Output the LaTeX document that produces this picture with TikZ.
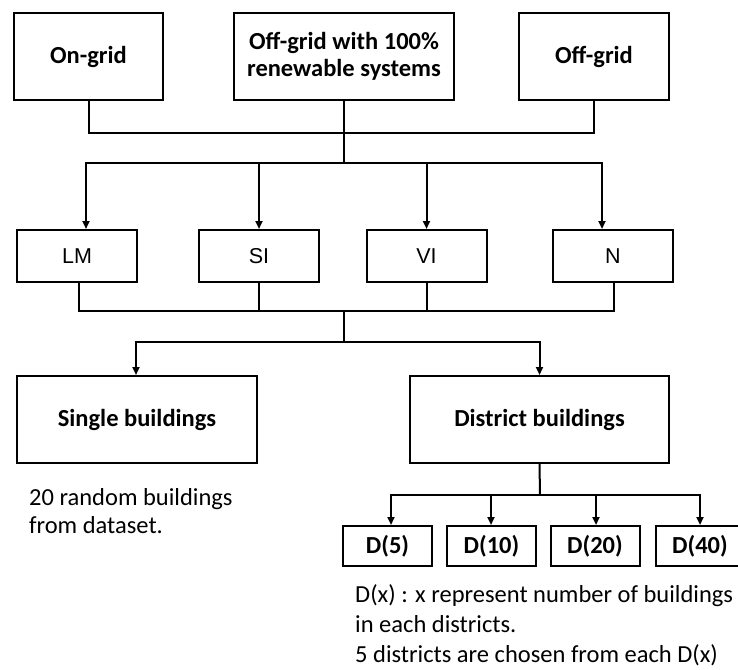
\documentclass[tikz,border=0pt]{standalone}
\usepackage{fontspec}
\setmainfont{Carlito}
\newfontfamily\arialf{Liberation Sans}
\usetikzlibrary{arrows.meta}
\begin{document}
\begin{tikzpicture}[x=1pt,y=-1pt,
  box/.style={draw, line width=2pt, inner sep=0pt, font=\bfseries\fontsize{24.5}{26.6}\selectfont, align=center},
  sbox/.style={draw, line width=2pt, inner sep=0pt, font=\arialf\fontsize{21.5}{23}\selectfont, minimum width=120pt, minimum height=52pt},
  dbox/.style={draw, line width=2pt, inner sep=0pt, font=\bfseries\fontsize{24.5}{26}\selectfont, minimum width=89pt, minimum height=40pt},
  conn/.style={line width=2pt},
  arr/.style={conn, -{Triangle[width=7pt,length=8pt]}},
  note/.style={anchor=base west, inner sep=0pt, font=\fontsize{24.5}{28}\selectfont}]
\useasboundingbox (0,0) rectangle (738,669);

\node[box, minimum width=149pt, minimum height=87pt] (on) at (88.5,56.5) {On-grid};
\node[box, minimum width=220pt, minimum height=87pt] (mid) at (344,56.5) {Off-grid with 100\%\\renewable systems};
\node[box, minimum width=150pt, minimum height=87pt] (off) at (594,56.5) {Off-grid};

\node[sbox] (lm) at (77,256) {LM};
\node[sbox] (si) at (259,256) {SI};
\node[sbox] (vi) at (426.5,256) {VI};
\node[sbox] (n) at (613,256) {N};

\node[box, minimum width=240pt, minimum height=87pt] (single) at (137,419.5) {Single buildings};
\node[box, minimum width=259pt, minimum height=87pt] (district) at (539.5,419.5) {District buildings};

\node[dbox] (d5) at (387.5,546) {D(5)};
\node[dbox] (d10) at (491.5,546) {D(10)};
\node[dbox] (d20) at (595,546) {D(20)};
\node[dbox] (d40) at (700,546) {D(40)};

\coordinate (j1) at (344,133);
\coordinate (j2) at (344,163);
\coordinate (j3) at (344,311);
\coordinate (j4) at (344,342);
\coordinate (j5) at (540,495);

\draw[conn] (on.south) |- (j1) -| (off.south);
\draw[conn] (mid.south) -- (j2);
\draw[arr] (j2) -| ([xshift=9pt]lm.north);
\draw[arr] (j2) -| (si.north);
\draw[arr] (j2) -| (vi.north);
\draw[arr] (j2) -| ([xshift=-11pt]n.north);

\draw[conn] ([xshift=2pt]lm.south) |- (j3) -| ([xshift=1pt]n.south);
\draw[conn] (si.south) -- (si.south |- j3);
\draw[conn] (vi.south) -- (vi.south |- j3);
\draw[conn] (j3) -- (j4);
\draw[arr] (j4) -| ([xshift=-1pt]single.north);
\draw[arr] (j4) -| (district.north);

\draw[conn] (district.south) -- (j5);
\draw[arr] (j5) -| ([xshift=3.5pt]d5.north);
\draw[arr] (j5) -| ([xshift=-0.5pt]d10.north);
\draw[arr] (j5) -| ([xshift=1pt]d20.north);
\draw[arr] (j5) -| (d40.north);

\node[note] (t1) at (29,505) {20 random buildings};
\node[note] (t2) at (29,533) {from dataset.};
\node[note] (t3) at (355,602) {D(x) : x represent number of buildings};
\node[note] (t4) at (355,632) {in each districts.};
\node[note] (t5) at (355,662) {5 districts are chosen from each D(x)};
\end{tikzpicture}
\end{document}
